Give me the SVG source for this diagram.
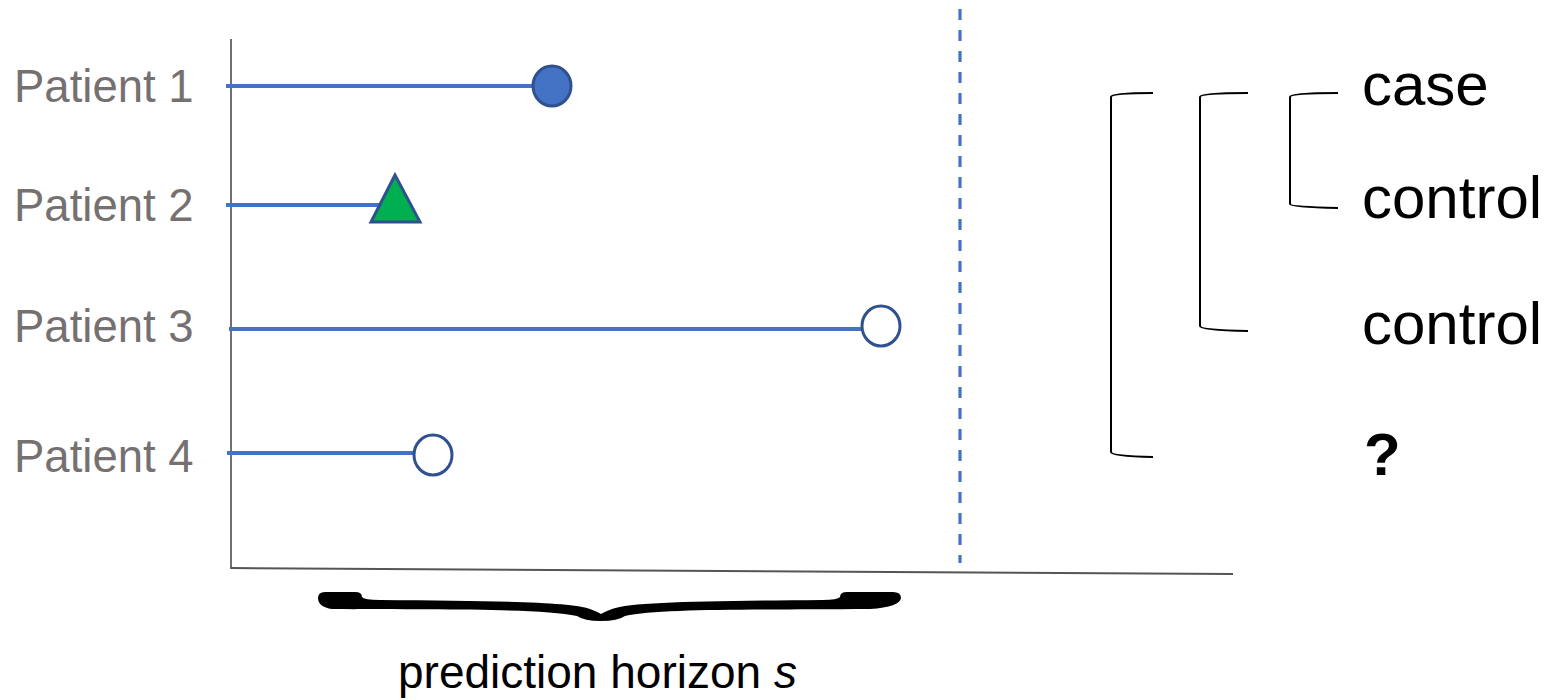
<svg xmlns="http://www.w3.org/2000/svg" width="1550" height="700" viewBox="0 0 1550 700">
<style>
.lbl{font-family:"Liberation Sans",Arial,sans-serif;font-size:45.5px;fill:#767171}
.out{font-family:"Liberation Sans",Arial,sans-serif;font-size:60px;fill:#000}
.tl{stroke:#4472C4;stroke-width:3.8;fill:none}
.mk{stroke:#2F528F;stroke-width:3}
.br{stroke:#000;stroke-width:2;fill:none}
</style>
<rect width="1550" height="700" fill="#fff"/>
<g id="axes">
<line x1="231" y1="39" x2="231" y2="569" stroke="#333" stroke-width="1.4"/>
<line x1="231" y1="568" x2="1233" y2="574" stroke="#555" stroke-width="2"/>
<line x1="960" y1="9" x2="960" y2="563" stroke="#4472C4" stroke-width="3.2" stroke-dasharray="11 10"/>
</g>
<g id="connectors">
<line class="tl" x1="226" y1="86" x2="534" y2="86"/>
<line class="tl" x1="226" y1="205" x2="380" y2="205"/>
<line class="tl" x1="229" y1="329" x2="862" y2="329"/>
<line class="tl" x1="227" y1="453" x2="414" y2="453"/>
</g>
<g id="patient1">
<text class="lbl" x="14" y="102">Patient 1</text>
<ellipse class="mk" cx="552" cy="86" rx="19" ry="20" fill="#4472C4"/>
</g>
<g id="patient2">
<text class="lbl" x="14" y="221">Patient 2</text>
<polygon class="mk" points="395,175 371,222 420,222" fill="#00B050" stroke-linejoin="miter"/>
</g>
<g id="patient3">
<text class="lbl" x="14" y="342">Patient 3</text>
<ellipse class="mk" cx="881" cy="326" rx="19" ry="20" fill="#fff" stroke-width="3.5"/>
</g>
<g id="patient4">
<text class="lbl" x="14" y="472">Patient 4</text>
<ellipse class="mk" cx="433" cy="455" rx="19" ry="20" fill="#fff" stroke-width="3.5"/>
</g>
<g id="brace">
<path d="M325,592 L355,592 Q362,592 362,597 Q364,600 380,600 C500,601 570,602 590,609 Q598,612 601,614 Q604,612 612,609 C632,602 702,601 822,600 Q838,600 840,597 Q840,592 847,592 L893,592 Q901,592 901,598 Q900,607 870,609 C760,610 660,608 625,616 Q618,621 601,621 Q584,621 577,616 C542,608 442,610 332,609 Q318,607 318,598 Q318,592 325,592 Z" fill="#000"/>
<text x="398" y="688" font-family="Liberation Sans, Arial, sans-serif" font-size="46" fill="#000">prediction horizon <tspan font-style="italic">s</tspan></text>
</g>
<g id="brackets">
<path class="br" d="M1153,93 Q1111,93 1111,97 L1111,452 Q1111,456 1153,457"/>
<path class="br" d="M1248,93 Q1200,93 1200,97 L1200,326 Q1200,330 1248,331"/>
<path class="br" d="M1338,93 Q1290,93 1290,97 L1290,204 Q1290,207 1338,208"/>
</g>
<g id="outcomes">
<text class="out" x="1362" y="105">case</text>
<text class="out" x="1362" y="218">control</text>
<text class="out" x="1362" y="344">control</text>
<text class="out" x="1364" y="475" font-weight="bold">?</text>
</g>
</svg>
